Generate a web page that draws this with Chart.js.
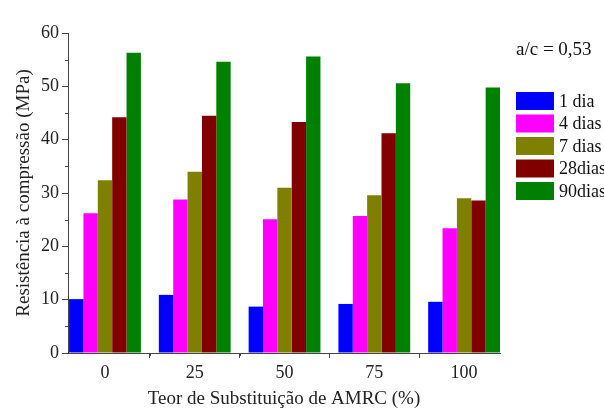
<!DOCTYPE html>
<html><head><meta charset="utf-8">
<script src="https://cdn.jsdelivr.net/npm/chart.js@4/dist/chart.umd.min.js"></script>
<style>html,body{margin:0;padding:0;background:#fff;}#wrap{width:604px;height:412px;}</style>
</head><body><div id="wrap"><canvas id="c" width="604" height="412"></canvas></div>
<script>
const categories = [0, 25, 50, 75, 100];
const seriesNames = ['1 dia', '4 dias', '7 dias', '28dias', '90dias'];
const dia1 = [10.1, 10.9, 8.7, 9.2, 9.6];
const dias4 = [26.2, 28.8, 25.1, 25.7, 23.4];
const dias7 = [32.4, 34.0, 31.0, 29.6, 29.0];
const dias28 = [44.2, 44.5, 43.3, 41.2, 28.6];
const dias90 = [56.3, 54.6, 55.6, 50.6, 49.8];
const yTicks = [0, 10, 20, 30, 40, 50, 60];
const colors = ['#0000ff', '#ff00ff', '#808000', '#800000', '#008000'];
const allSeries = [dia1, dias4, dias7, dias28, dias90];

const FONT = 'Liberation Serif';

const minorTicks = {
  id: 'minorTicks',
  afterDraw(chart) {
    const ctx = chart.ctx, x = chart.scales.x, y = chart.scales.y;
    ctx.save();
    ctx.strokeStyle = '#444';
    ctx.lineWidth = 1;
    ctx.beginPath();
    for (let v = 5; v < 60; v += 10) {
      const py = Math.round(y.getPixelForValue(v)) + 0.5;
      ctx.moveTo(x.left - 3, py); ctx.lineTo(x.left, py);
    }
    for (let v = 12.5; v < 100; v += 25) {
      const px = Math.round(x.getPixelForValue(v)) + 0.5;
      ctx.moveTo(px, y.bottom); ctx.lineTo(px, y.bottom + 3);
    }
    ctx.stroke();
    // legend
    const bx = 516, bw = 38, bh = 18, y0 = 92, step = 22.5;
    ctx.font = '18px "' + FONT + '"';
    ctx.textBaseline = 'middle';
    ctx.textAlign = 'left';
    seriesNames.forEach((n, i) => {
      const top = y0 + i * step;
      ctx.fillStyle = colors[i];
      ctx.fillRect(bx, top, bw, bh);
      ctx.fillStyle = '#111';
      ctx.fillText(n, bx + bw + 5, top + bh / 2 + 1);
    });
    ctx.font = '19px "' + FONT + '"';
    ctx.fillText('a/c = 0,53', 516, 50);
    ctx.restore();
  }
};

new Chart(document.getElementById('c'), {
  type: 'bar',
  data: {
    datasets: allSeries.map((s, i) => ({
      label: seriesNames[i],
      data: categories.map((c, j) => ({ x: c, y: s[j] })),
      backgroundColor: colors[i],
      borderWidth: 0
    }))
  },
  options: {
    responsive: false,
    animation: false,
    layout: { padding: { left: 0, right: 104, top: 33, bottom: 0 } },
    plugins: { legend: { display: false }, tooltip: { enabled: false } },
    datasets: { bar: { categoryPercentage: 0.8, barPercentage: 1.0 } },
    scales: {
      x: {
        type: 'linear',
        offset: false,
        min: -10.3,
        max: 110,
        afterFit(s) { s.height = 59; },
        ticks: {
          stepSize: 25,
          includeBounds: false,
          color: '#222',
          padding: 4,
          maxRotation: 0,
          font: { family: FONT, size: 18 },
          callback: v => String(v)
        },
        grid: { display: true, drawOnChartArea: false, drawTicks: true, tickLength: 5, color: '#444' },
        border: { display: true, color: '#444', width: 1 },
        title: {
          display: true,
          text: 'Teor de Substituição de AMRC (%)',
          color: '#222',
          font: { family: FONT, size: 19 },
          padding: { top: 0, bottom: 2 }
        }
      },
      y: {
        min: 0,
        max: 60,
        afterFit(s) { s.width = 68; },
        afterBuildTicks(s) { s.ticks = yTicks.map(v => ({ value: v })); },
        ticks: {
          color: '#222',
          padding: 3,
          font: { family: FONT, size: 18 }
        },
        grid: { display: true, drawOnChartArea: false, drawTicks: true, tickLength: 6, color: '#444' },
        border: { display: true, color: '#444', width: 1 },
        title: {
          display: true,
          text: 'Resistência à compressão (MPa)',
          color: '#222',
          font: { family: FONT, size: 19 },
          padding: { top: 13, bottom: 0 }
        }
      }
    }
  },
  plugins: [minorTicks]
});
</script>
</body></html>
